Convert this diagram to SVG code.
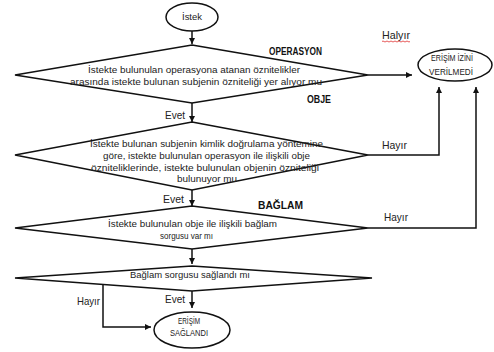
<svg xmlns="http://www.w3.org/2000/svg" width="494" height="352" viewBox="0 0 494 352">
<defs>
<style>
.s{fill:none;stroke:#111;stroke-width:1.5}
.n{fill:#fff;stroke:#111;stroke-width:1.5}
.t{font-family:"Liberation Sans",Arial,sans-serif;font-size:9.5px;fill:#222}
.l{font-family:"Liberation Sans",Arial,sans-serif;font-size:10.5px;fill:#222}
.b{font-family:"Liberation Sans",Arial,sans-serif;font-size:10.5px;font-weight:bold;fill:#111}
</style>
<marker id="a" viewBox="0 0 10 10" refX="10" refY="5" markerWidth="6" markerHeight="6" orient="auto" markerUnits="userSpaceOnUse">
<path d="M0,0 L10,5 L0,10 z" fill="#111"/>
</marker>
</defs>
<rect width="494" height="352" fill="#fff"/>
<g id="connectors">
<path class="s" d="M192,31 V44" marker-end="url(#a)"/>
<path class="s" d="M368,75 H412" marker-end="url(#a)"/>
<path class="s" d="M192,103 V122" marker-end="url(#a)"/>
<path class="s" d="M368,155 H439 V87" marker-end="url(#a)"/>
<path class="s" d="M192,190 V206" marker-end="url(#a)"/>
<path class="s" d="M368,228 H476 V87" marker-end="url(#a)"/>
<path class="s" d="M192,249 V264" marker-end="url(#a)"/>
<path class="s" d="M192,291 V308" marker-end="url(#a)"/>
<path class="s" d="M103,284 V327 H151" marker-end="url(#a)"/>
<text class="l" x="382" y="39" textLength="28" lengthAdjust="spacingAndGlyphs">Halyır</text>
<path d="M382,41.5 q1,-1 2,0 t2,0 t2,0 t2,0 t2,0 t2,0 t2,0 t2,0 t2,0 t2,0 t2,0 t2,0 t2,0 t2,0" fill="none" stroke="#e03030" stroke-width="0.8"/>
<text class="l" x="165" y="119" textLength="20" lengthAdjust="spacingAndGlyphs">Evet</text>
<text class="l" x="382" y="149" textLength="25" lengthAdjust="spacingAndGlyphs">Hayır</text>
<text class="l" x="163" y="203" textLength="21" lengthAdjust="spacingAndGlyphs">Evet</text>
<text class="l" x="384" y="221" textLength="24" lengthAdjust="spacingAndGlyphs">Hayır</text>
<text class="l" x="165" y="303" textLength="20" lengthAdjust="spacingAndGlyphs">Evet</text>
<text class="l" x="77" y="305" textLength="23" lengthAdjust="spacingAndGlyphs">Hayır</text>
</g>
<g id="istek">
<ellipse class="n" cx="192" cy="17" rx="26" ry="14"/>
<text class="t" x="182" y="20" textLength="20" lengthAdjust="spacingAndGlyphs">İstek</text>
</g>
<g id="operasyon">
<polygon class="n" points="192,45 368,75 192,103 15,75"/>
<text class="t" x="88" y="73" textLength="212" lengthAdjust="spacingAndGlyphs">İstekte bulunulan operasyona atanan öznitelikler</text>
<text class="t" x="70" y="84.5" textLength="252" lengthAdjust="spacingAndGlyphs">arasında istekte bulunan subjenin özniteliği yer alıyor mu</text>
<text class="b" x="269" y="55" textLength="53" lengthAdjust="spacingAndGlyphs">OPERASYON</text>
</g>
<g id="obje">
<polygon class="n" points="192,122 368,155 192,190 15,155"/>
<text class="t" x="90" y="147" textLength="233" lengthAdjust="spacingAndGlyphs">İstekte bulunan subjenin kimlik doğrulama yöntemine</text>
<text class="t" x="103" y="159" textLength="207" lengthAdjust="spacingAndGlyphs">göre, istekte bulunulan operasyon ile ilişkili obje</text>
<text class="t" x="91" y="170.5" textLength="228" lengthAdjust="spacingAndGlyphs">özniteliklerinde, istekte bulunulan objenin özniteliği</text>
<text class="t" x="177" y="182" textLength="60" lengthAdjust="spacingAndGlyphs">bulunuyor mu</text>
<text class="b" x="307" y="103" textLength="24" lengthAdjust="spacingAndGlyphs">OBJE</text>
</g>
<g id="baglam">
<polygon class="n" points="192,206 368,228 192,249 15,228"/>
<text class="t" x="108" y="227" textLength="169" lengthAdjust="spacingAndGlyphs">İstekte bulunulan obje ile ilişkili bağlam</text>
<text class="t" x="160" y="239" textLength="53" lengthAdjust="spacingAndGlyphs">sorgusu var mı</text>
<text class="b" x="258" y="209" textLength="45" lengthAdjust="spacingAndGlyphs">BAĞLAM</text>
</g>
<g id="sorgu">
<polygon class="n" points="192,266 372,278 192,291 15,278"/>
<text class="t" x="130" y="278" textLength="120" lengthAdjust="spacingAndGlyphs">Bağlam sorgusu sağlandı mı</text>
</g>
<g id="reddedildi">
<ellipse class="n" cx="455" cy="65" rx="37" ry="16"/>
<text class="t" x="431" y="61" textLength="42" lengthAdjust="spacingAndGlyphs">ERİŞİM İZİNİ</text>
<text class="t" x="429" y="75" textLength="44" lengthAdjust="spacingAndGlyphs">VERİLMEDİ</text>
</g>
<g id="saglandi">
<ellipse class="n" cx="192" cy="330" rx="38" ry="18"/>
<text class="t" x="178" y="324" textLength="22" lengthAdjust="spacingAndGlyphs">ERİŞİM</text>
<text class="t" x="170" y="336" textLength="38" lengthAdjust="spacingAndGlyphs">SAĞLANDI</text>
</g>
</svg>
